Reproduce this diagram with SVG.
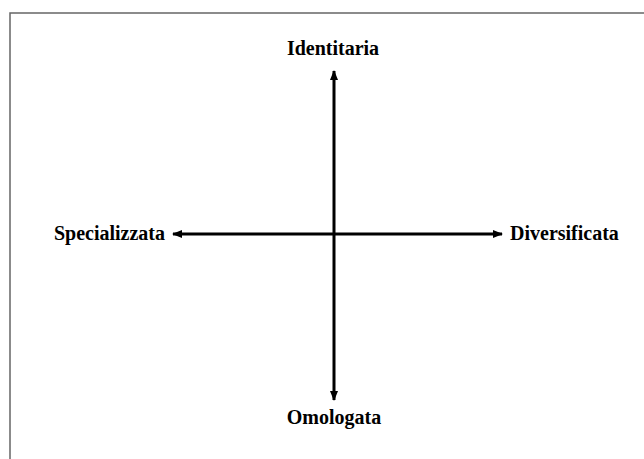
<svg xmlns="http://www.w3.org/2000/svg" width="644" height="459" viewBox="0 0 644 459">
<style>
.lbl{font-family:"Liberation Serif","Times New Roman",serif;font-weight:bold;font-size:20px;fill:#000}
.ax{stroke:#000;stroke-width:3;fill:none}
</style>
<defs>
<marker id="ah" viewBox="0 0 10 8" refX="9" refY="4" markerWidth="10" markerHeight="8" markerUnits="userSpaceOnUse" orient="auto-start-reverse">
<path d="M0,0 L10,4 L0,8 z" fill="#000"/>
</marker>
</defs>
<rect width="644" height="459" fill="#fff"/>
<path d="M10,459 V13 H644" fill="none" stroke="#666" stroke-width="1.5"/>
<g id="connectors">
<line class="ax" x1="334" y1="71" x2="334" y2="400" marker-start="url(#ah)" marker-end="url(#ah)"/>
<line class="ax" x1="173" y1="234" x2="502" y2="234" marker-start="url(#ah)" marker-end="url(#ah)"/>
</g>
<g id="identitaria"><text class="lbl" x="333" y="55" text-anchor="middle">Identitaria</text></g>
<g id="omologata"><text class="lbl" x="334" y="424" text-anchor="middle">Omologata</text></g>
<g id="specializzata"><text class="lbl" x="165" y="240" text-anchor="end">Specializzata</text></g>
<g id="diversificata"><text class="lbl" x="510" y="240">Diversificata</text></g>
</svg>
